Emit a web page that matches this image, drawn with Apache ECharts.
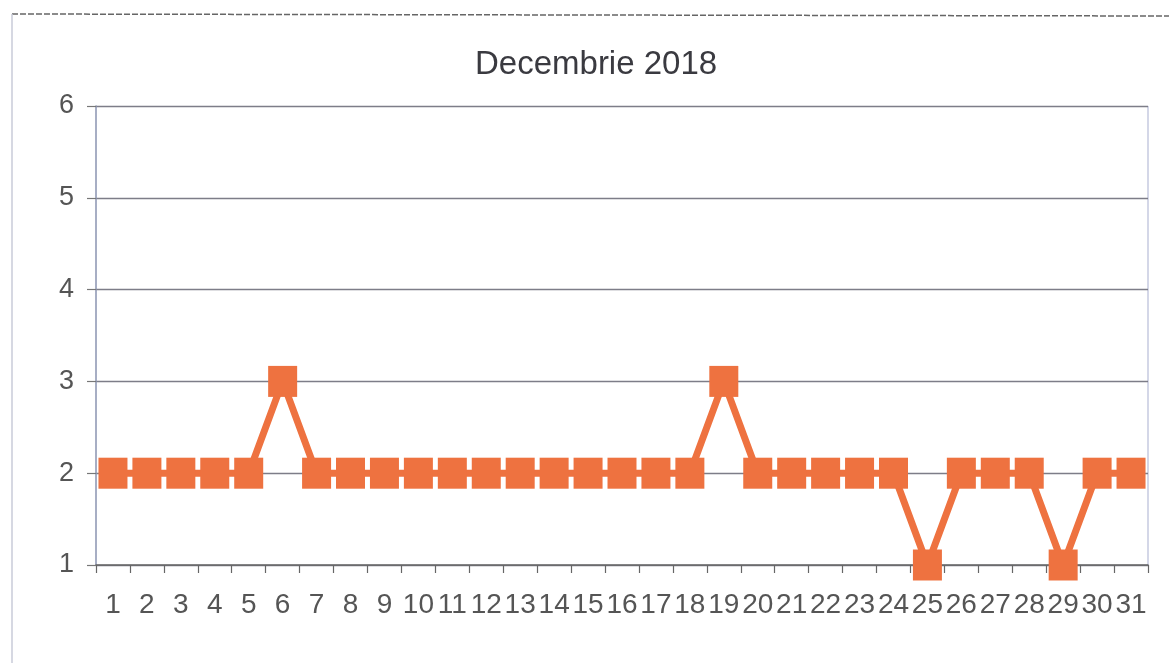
<!DOCTYPE html>
<html>
<head>
<meta charset="utf-8">
<script src="https://cdn.jsdelivr.net/npm/echarts@6/dist/echarts.min.js"></script>
<style>html,body{margin:0;padding:0;background:#fff;}#c{width:1169px;height:663px;}</style>
</head>
<body>
<div id="c"></div>
<script>
const titleText = 'Decembrie 2018';
const days = ['1','2','3','4','5','6','7','8','9','10','11','12','13','14','15','16','17','18','19','20','21','22','23','24','25','26','27','28','29','30','31'];
const values = [2,2,2,2,2,3,2,2,2,2,2,2,2,2,2,2,2,2,3,2,2,2,2,2,1,2,2,2,1,2,2];
const yTicks = [1,2,3,4,5,6];

const chart = echarts.init(document.getElementById('c'));
chart.setOption({
  backgroundColor: '#fff',
  animation: false,
  title: {
    text: titleText, left: 470, top: 43,
    textStyle: { fontFamily: 'Liberation Sans, Arial', fontSize: 33, fontWeight: 'normal', color: '#3a3a40' }
  },
  graphic: [
    { type: 'line', shape: { x1: 12, y1: 14, x2: 1169, y2: 16 }, style: { stroke: '#666', lineWidth: 1.5, lineDash: [6, 2] } },
    { type: 'line', shape: { x1: 12, y1: 14, x2: 12, y2: 663 }, style: { stroke: '#c8cbd8', lineWidth: 1.5 } },
    { type: 'line', shape: { x1: 1148, y1: 106, x2: 1148, y2: 565 }, style: { stroke: '#b8bcd8', lineWidth: 1.2 } }
  ],
  grid: { left: 96, right: 21, top: 106, bottom: 98, containLabel: false },
  xAxis: {
    type: 'category', data: days, boundaryGap: true,
    axisLine: { lineStyle: { color: '#666', width: 1.5 } },
    axisTick: { show: true, alignWithLabel: false, length: 8, lineStyle: { color: '#666', width: 1.2 } },
    axisLabel: { fontFamily: 'Liberation Sans, Arial', fontSize: 28, color: '#555', margin: 26, interval: 0 }
  },
  yAxis: {
    type: 'value', min: 1, max: 6, interval: 1,
    axisLine: { show: true, lineStyle: { color: '#8a93b0', width: 1.5 } },
    axisTick: { show: true, length: 9, lineStyle: { color: '#777', width: 1.2 } },
    axisLabel: { fontFamily: 'Liberation Sans, Arial', fontSize: 27, color: '#555', margin: 22 },
    splitLine: { show: true, lineStyle: { color: '#7d7d88', width: 1.3 } }
  },
  series: [{
    type: 'line', data: values,
    symbol: 'rect', symbolSize: [29, 31],
    lineStyle: { color: '#ee7240', width: 7 },
    itemStyle: { color: '#ee7240' }
  }]
});
</script>
</body>
</html>
